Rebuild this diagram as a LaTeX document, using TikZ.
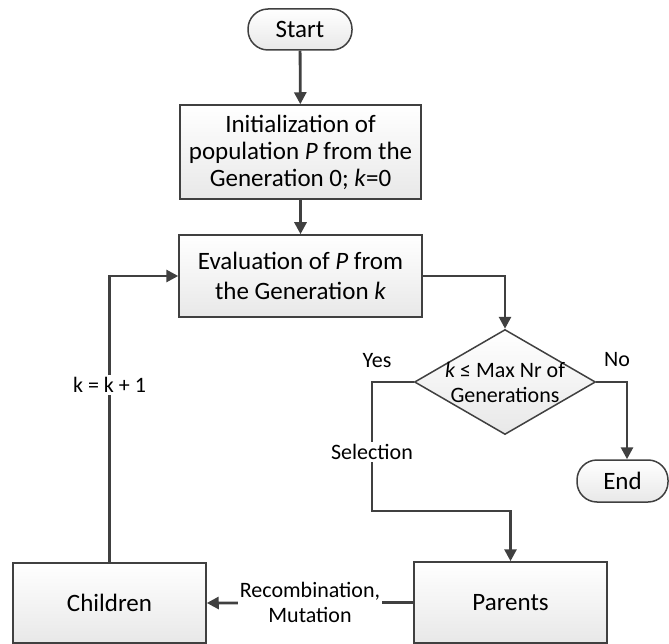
\documentclass[tikz,border=0pt]{standalone}
\usepackage{fontspec}
\setmainfont{Carlito}
\usetikzlibrary{shapes.geometric,arrows.meta}
\definecolor{edge}{HTML}{404040}
\begin{document}
\begin{tikzpicture}[x=1pt,y=-1pt,
  box/.style={draw=edge, line width=1.5pt, top color=white, bottom color=black!9,
    inner sep=0pt, align=center, font=\fontsize{25}{28}\selectfont},
  term/.style={box, rounded corners=20pt},
  dia/.style={shape=diamond, draw=edge, line width=1.5pt, top color=white, bottom color=black!9,
    inner sep=0pt, minimum width=181pt, minimum height=105pt},
  conn/.style={draw=edge, line width=2.8pt, -{Triangle[length=12pt,width=12pt]}},
  lab/.style={font=\fontsize{22}{25}\selectfont, fill=white, inner sep=2pt, align=center},
]
\useasboundingbox (0,0) rectangle (669,644);

\node[term, minimum width=104pt, minimum height=41pt] (start) at (300,29.5) {Start};
\node[box, minimum width=241pt, minimum height=94pt, font=\fontsize{25}{27}\selectfont] (init) at (300.5,152)
  {Initialization of\\population \textit{P} from the\\Generation 0; \textit{k}=0};
\node[box, minimum width=243pt, minimum height=82pt, font=\fontsize{25}{30}\selectfont] (ev) at (300.5,276)
  {Evaluation of \textit{P} from\\the Generation \textit{k}};
\node[dia, label={[font=\fontsize{22}{25}\selectfont, align=center]center:\textit{k} ≤ Max Nr of\\Generations}] (dec) at (505,382) {};
\node[term, minimum width=91pt, minimum height=42pt] (endn) at (622.5,481) {End};
\node[box, minimum width=193pt, minimum height=80pt] (ch) at (109.5,603) {Children};
\node[box, minimum width=193pt, minimum height=81pt] (par) at (510.5,602.5) {Parents};

\coordinate (ysel) at (372,511);

\draw[conn] (start) -- (init);
\draw[conn] (init) -- (ev);
\draw[conn] (ev.east) -| (dec.north);
\draw[conn] (dec.east) -| ([xshift=4.5pt]endn.north);
\draw[conn] (dec.west) -| (ysel) -| (par.north);
\draw[conn] (par.west) -- (ch.east)
  node[lab, midway] {Recombination,\\Mutation};
\draw[conn] (ch.north) |- (ev.west);

\node[lab] (lsel) at (372,452) {Selection};
\node[lab] (lk) at (109.5,385) {k = k + 1};
\node[lab, fill=none] (lyes) at (377,361) {Yes};
\node[lab, fill=none] (lno) at (617,360) {No};
\end{tikzpicture}
\end{document}
